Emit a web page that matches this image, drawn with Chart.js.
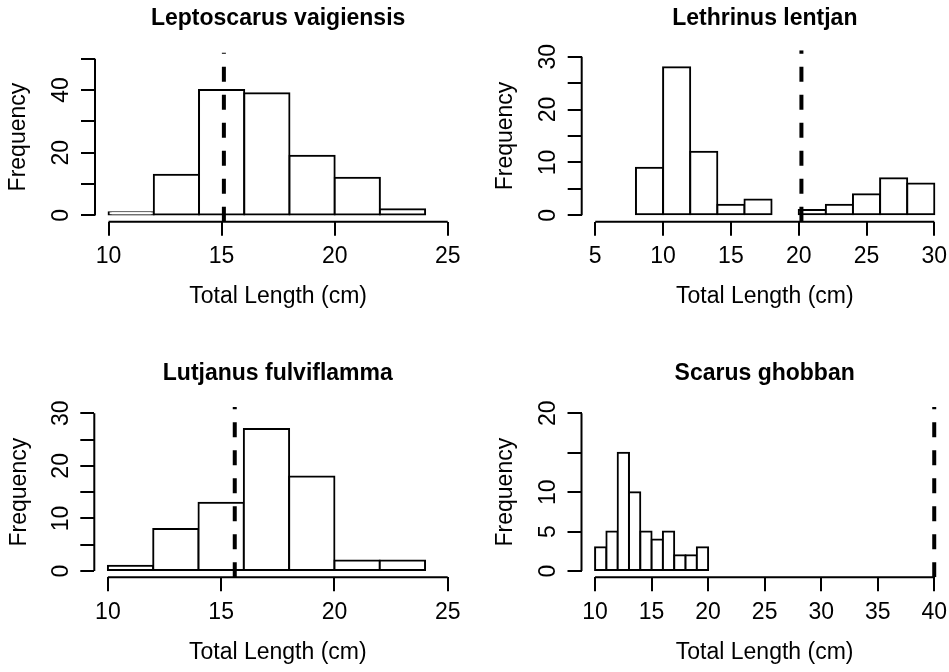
<!DOCTYPE html>
<html lang="en">
<head>
<meta charset="UTF-8">
<title>Total length frequency distributions</title>
<script src="https://cdn.jsdelivr.net/npm/chart.js"></script>
<style>
  body { margin: 0; background: #fff; }
  #fig { position: relative; width: 949px; height: 672px; }
  #fig canvas { position: absolute; }
</style>
</head>
<body>
<div id="fig">
  <canvas id="p1" width="474" height="336" style="left:0;top:0"></canvas>
  <canvas id="p2" width="474" height="336" style="left:475px;top:0"></canvas>
  <canvas id="p3" width="474" height="336" style="left:0;top:336px"></canvas>
  <canvas id="p4" width="474" height="336" style="left:475px;top:336px"></canvas>
</div>
<script>
  // data
  const species = ["Leptoscarus vaigiensis", "Lethrinus lentjan", "Lutjanus fulviflamma", "Scarus ghobban"];

  const lepBins = [11, 13, 15, 17, 19, 21, 23];
  const lepFreq = [1, 13, 40, 39, 19, 12, 2];

  const letBins = [9, 11, 13, 15, 17, 19, 21, 23, 25, 27, 29];
  const letFreq = [9, 28, 12, 2, 3, 0, 1, 2, 4, 7, 6];

  const lutBins = [11, 13, 15, 17, 19, 21, 23];
  const lutFreq = [1, 8, 13, 27, 18, 2, 2];

  const scaBins = [10.5, 11.5, 12.5, 13.5, 14.5, 15.5, 16.5, 17.5, 18.5, 19.5];
  const scaFreq = [3, 5, 15, 10, 5, 4, 5, 2, 2, 3];

  const dashedAt = [15.1, 20.2, 15.6, 40];

  const xTicks = [[10, 15, 20, 25], [5, 10, 15, 20, 25, 30], [10, 15, 20, 25], [10, 15, 20, 25, 30, 35, 40]];
  const yTicks = [[0, 10, 20, 30, 40, 50], [0, 5, 10, 15, 20, 25, 30], [0, 5, 10, 15, 20, 25, 30], [0, 5, 10, 15, 20]];
  const yLabelled = [[0, 20, 40], [0, 10, 20, 30], [0, 10, 20, 30], [0, 5, 10, 20]];

  const bins = [lepBins, letBins, lutBins, scaBins];
  const freqs = [lepFreq, letFreq, lutFreq, scaFreq];

  // where each plot box sits inside its canvas (left, right, top, bottom) + text rows
  const frames = [
    { id: "p1", area: [95, 461.3, 52.4, 221.7], titleY: 18.5, xTitleY: 297, yTitleX: 18.3 },
    { id: "p2", area: [106.7, 472.9, 50.3, 221.7], titleY: 18.5, xTitleY: 297, yTitleX: 31 },
    { id: "p3", area: [94.3, 461.3, 71, 241.3], titleY: 38.1, xTitleY: 316.6, yTitleX: 20 },
    { id: "p4", area: [106.5, 472.8, 71, 241.3], titleY: 38.1, xTitleY: 316.6, yTitleX: 30.5 }
  ];

  const FS = 23;
  const LH = FS * 1.2;
  const W = 474, H = 336;
  Chart.defaults.font.family = "'Liberation Sans', Arial, sans-serif";
  Chart.defaults.color = "#000";

  // R style axis lines: only from first to last tick
  const axisLines = {
    id: "axisLines",
    afterDraw(chart) {
      const { ctx, chartArea, scales: { x, y } } = chart;
      const xt = x.ticks, yt = y.ticks;
      ctx.save();
      ctx.strokeStyle = "#000";
      ctx.lineWidth = 2;
      ctx.beginPath();
      ctx.moveTo(x.getPixelForValue(xt[0].value), chartArea.bottom);
      ctx.lineTo(x.getPixelForValue(xt[xt.length - 1].value), chartArea.bottom);
      ctx.moveTo(chartArea.left, y.getPixelForValue(yt[0].value));
      ctx.lineTo(chartArea.left, y.getPixelForValue(yt[yt.length - 1].value));
      ctx.stroke();
      ctx.restore();
    }
  };

  frames.forEach((f, i) => {
    const [aL, aR, aT, aB] = f.area;
    const xt = xTicks[i], yt = yTicks[i];
    const xPad = 0.04 * (xt[xt.length - 1] - xt[0]);
    const yTop = yt[yt.length - 1];
    const yPad = 0.04 * yTop;
    const yMin = -yPad, yMax = yTop + yPad;

    new Chart(document.getElementById(f.id), {
      type: "bar",
      data: {
        datasets: [
          {
            type: "line",
            data: [{ x: dashedAt[i], y: yMin }, { x: dashedAt[i], y: yMax }],
            borderColor: "#000",
            borderWidth: 4,
            borderDash: [15, 13],
            borderCapStyle: "butt",
            pointRadius: 0,
            order: 0
          },
          {
            type: "bar",
            data: bins[i].map((b, k) => ({ x: b, y: freqs[i][k] })),
            backgroundColor: "#fff",
            borderColor: "#000",
            borderWidth: 2,
            borderSkipped: false,
            inflateAmount: 1,
            barPercentage: 1,
            categoryPercentage: 1,
            order: 1
          }
        ]
      },
      options: {
        responsive: false,
        animation: false,
        events: [],
        layout: { padding: { left: 0, right: W - aR, top: 0, bottom: 0 } },
        plugins: {
          legend: { display: false },
          tooltip: { enabled: false },
          title: {
            display: true,
            text: species[i],
            fullSize: false,
            color: "#000",
            font: { size: FS, weight: "bold" },
            padding: { top: f.titleY - LH / 2, bottom: aT - f.titleY - LH / 2 }
          }
        },
        scales: {
          x: {
            type: "linear",
            min: xt[0] - xPad,
            max: xt[xt.length - 1] + xPad,
            offset: false,
            afterBuildTicks: s => { s.ticks = xt.map(v => ({ value: v })); },
            afterFit: s => { s.height = H - aB; s.paddingLeft = 0; s.paddingRight = 0; },
            grid: { offset: false, drawOnChartArea: false, drawTicks: true, tickLength: 14, color: "#000", lineWidth: 2 },
            border: { display: false },
            ticks: { autoSkip: false, maxRotation: 0, padding: 7.5, font: { size: FS }, color: "#000" },
            title: {
              display: true,
              text: "Total Length (cm)",
              color: "#000",
              font: { size: FS },
              padding: { top: 0, bottom: H - f.xTitleY - LH / 2 }
            }
          },
          y: {
            min: yMin,
            max: yMax,
            afterBuildTicks: s => { s.ticks = yt.map(v => ({ value: v })); },
            afterFit: s => { s.width = aL; s.paddingTop = 0; s.paddingBottom = 0; },
            grid: { drawOnChartArea: false, drawTicks: true, tickLength: 14, color: "#000", lineWidth: 2 },
            border: { display: false },
            ticks: {
              autoSkip: false,
              minRotation: 90,
              maxRotation: 90,
              crossAlign: "center",
              padding: 6.2,
              font: { size: FS },
              color: "#000",
              callback: v => (yLabelled[i].includes(v) ? String(v) : "")
            },
            title: {
              display: true,
              text: "Frequency",
              color: "#000",
              font: { size: FS },
              padding: { top: f.yTitleX - LH / 2, bottom: 0 }
            }
          }
        }
      },
      plugins: [axisLines]
    });
  });
</script>
</body>
</html>
